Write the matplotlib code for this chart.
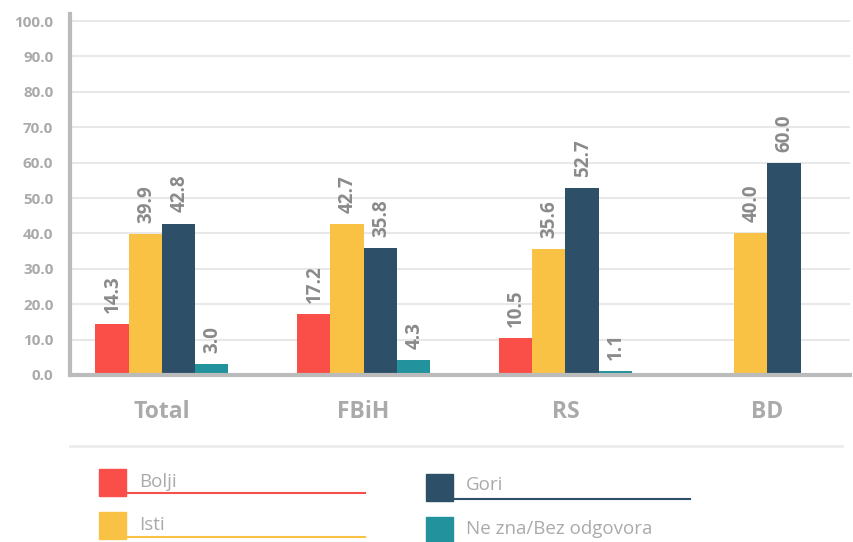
import numpy as np
import matplotlib.pyplot as plt
from matplotlib.patches import Rectangle
from matplotlib.lines import Line2D

plt.rcParams['font.family'] = ['Open Sans', 'DejaVu Sans']

categories = ['Total', 'FBiH', 'RS', 'BD']
series_names = ['Bolji', 'Isti', 'Gori', 'Ne zna/Bez odgovora']
bolji = [14.3, 17.2, 10.5, None]
isti = [39.9, 42.7, 35.6, 40.0]
gori = [42.8, 35.8, 52.7, 60.0]
ne_zna = [3.0, 4.3, 1.1, None]
y_ticks = [0, 10, 20, 30, 40, 50, 60, 70, 80, 90, 100]

colors = ['#fa4f49', '#f9c244', '#2d5068', '#22929c']
series = [bolji, isti, gori, ne_zna]

W, H = 854, 542
fig = plt.figure(figsize=(W / 100, H / 100), dpi=100)

# axes box in pixels: left 70, right 850, top 14, bottom 375
L, R, T, B = 70, 850, 14, 375
ax = fig.add_axes([L / W, 1 - B / H, (R - L) / W, (B - T) / H])

bw = 0.165
for i, cat in enumerate(categories):
    present = [(k, s[i]) for k, s in enumerate(series) if s[i] is not None]
    n = len(present)
    for j, (k, v) in enumerate(present):
        x = i + (j - (n - 1) / 2) * bw
        ax.bar(x, v, width=bw, color=colors[k], zorder=3)
        ax.annotate(f'{v:.1f}', (x, v), xytext=(0.5, 8), textcoords='offset points',
                    rotation=90, ha='center', va='bottom', fontsize=13.5,
                    fontweight='bold', color='#8a8a8a')

ax.set_xlim(-0.455, 3.41)
ax.set_ylim(0, 102)
ax.set_yticks(y_ticks)
ax.set_yticklabels([f'{t:.1f}' for t in y_ticks])
ax.set_xticks(range(len(categories)))
ax.set_xticklabels(categories)
ax.tick_params(axis='y', length=0, pad=12, labelsize=11, labelcolor='#aaaaaa')
ax.tick_params(axis='x', length=0, pad=18, labelsize=16.5, labelcolor='#aaaaaa')
for lab in ax.get_yticklabels() + ax.get_xticklabels():
    lab.set_fontweight('bold')

ax.grid(axis='y', color='#e8e8e8', linewidth=1.5, zorder=0)
for s in ['top', 'right']:
    ax.spines[s].set_visible(False)
ax.spines['left'].set_color('#bbbbbb')
ax.spines['left'].set_linewidth(3)
ax.spines['bottom'].set_color('#bbbbbb')
ax.spines['bottom'].set_linewidth(3)
ax.spines['bottom'].set_zorder(4)


def fx(px):
    return px / W


def fy(py):
    return 1 - py / H


# separator line above legend
fig.add_artist(Line2D([fx(70), fx(842)], [fy(446), fy(446)], color='#ececec', linewidth=2))

# legend: (square left, square top, underline end, underline y, text center y)
legend_pos = [
    (99, 469, 365, 493, 482),
    (99, 512, 365, 537, 525),
    (426, 474, 690, 499, 485),
    (426, 517, None, None, 529),
]
sq = 27
for k, (x0, y0, ux, uy, ty) in enumerate(legend_pos):
    fig.add_artist(Rectangle((fx(x0), fy(y0 + sq)), sq / W, sq / H,
                             color=colors[k], transform=fig.transFigure))
    if ux is not None:
        fig.add_artist(Line2D([fx(x0 + sq), fx(ux)], [fy(uy), fy(uy)],
                              color=colors[k], linewidth=1.5))
    fig.text(fx(x0 + sq + 13), fy(ty), series_names[k], fontsize=13.5,
             color='#aaaaaa', va='center', ha='left')

fig.savefig('out.png', dpi=100)
